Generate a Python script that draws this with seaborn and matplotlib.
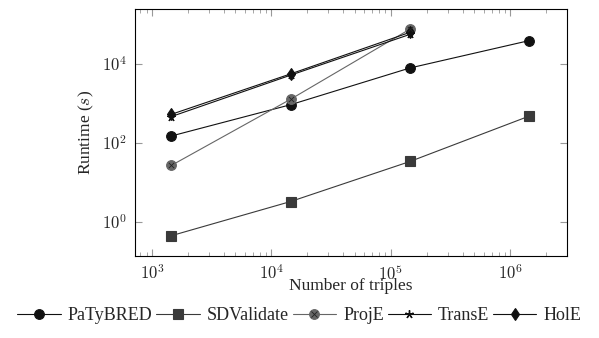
import matplotlib
matplotlib.use("Agg")
import matplotlib.pyplot as plt
from matplotlib.lines import Line2D
from matplotlib.legend_handler import HandlerTuple
from matplotlib.ticker import FuncFormatter, NullLocator
import numpy as np
import seaborn as sns
import pandas as pd

# number of triples (x) and runtimes in seconds per method
triples = [1450, 14500, 145000, 1450000]
patybred = [150, 930, 7900, 39000]
sdvalidate = [0.45, 3.3, 34, 480]
proje = [27, 1280, 76000]
transe = [465, 5200, 56000]
hole = [530, 5600, 63000]

sns.set_theme(style="ticks")
plt.rcParams["font.family"] = ["Liberation Serif", "DejaVu Serif"]
plt.rcParams["mathtext.fontset"] = "cm"

fig = plt.figure(figsize=(5.99, 3.38), dpi=100)
ax = fig.add_axes([0.2254, 0.2426, 0.7212, 0.7308])

series = [
    ("PaTyBRED", patybred, "#111111", "o", 7, 0.8),
    ("SDValidate", sdvalidate, "#3a3a3a", "s", 6.5, 0.8),
    ("ProjE", proje, "#666666", "o", 7, 0.8),
    ("TransE", transe, "#111111", (5, 2, 0), 6, 1.0),
    ("HolE", hole, "#111111", "d", 6, 0.8),
]

handles = []
for name, vals, col, mk, ms, mew in series:
    df = pd.DataFrame({"x": triples[:len(vals)], "y": vals})
    sns.lineplot(data=df, x="x", y="y", ax=ax, color=col, marker=mk,
                 markersize=ms, markeredgecolor=col, markeredgewidth=mew,
                 linewidth=0.8, label="_nolegend_")
    h = Line2D([], [], color=col, marker=mk, markersize=ms,
               markeredgecolor=col, markeredgewidth=mew, linewidth=0.8)
    if name == "ProjE":
        sns.scatterplot(data=df, x="x", y="y", ax=ax, marker="x", s=14,
                        color="#222222", linewidth=0.6, legend=False, zorder=5)
        hx = Line2D([], [], color="#222222", marker="x", markersize=3.7,
                    linestyle="none", markeredgewidth=0.6)
        h = (h, hx)
    handles.append(h)

ax.set_xscale("log")
ax.set_yscale("log")
ax.set_xlim(720, 3.0e6)
ax.set_ylim(10 ** -0.86, 10 ** 5.39)
ax.set_yticks([1, 100, 10000])
ax.yaxis.set_minor_locator(NullLocator())
pow_fmt = FuncFormatter(lambda v, p: r"$10^{%d}$" % round(np.log10(v)))
ax.xaxis.set_major_formatter(pow_fmt)
ax.yaxis.set_major_formatter(pow_fmt)

for s in ax.spines.values():
    s.set_color("black")
    s.set_linewidth(0.8)
ax.tick_params(which="both", direction="in", top=True, right=True,
               color="#999999", labelsize=12, pad=6)
ax.tick_params(which="major", length=5, width=0.8)
ax.tick_params(which="minor", length=3, width=0.6)

ax.set_xlabel("Number of triples", fontsize=12.5, labelpad=-4)
ax.set_ylabel("Runtime ($s$)", fontsize=12.5, labelpad=4)

fig.legend(handles, [s[0] for s in series], loc="center",
           bbox_to_anchor=(0.5, 0.066), ncol=5, frameon=False, fontsize=13,
           handlelength=2.4, handletextpad=0.4, columnspacing=0.2,
           handler_map={tuple: HandlerTuple(ndivide=1, pad=0)})

fig.savefig("out.png", dpi=100)
